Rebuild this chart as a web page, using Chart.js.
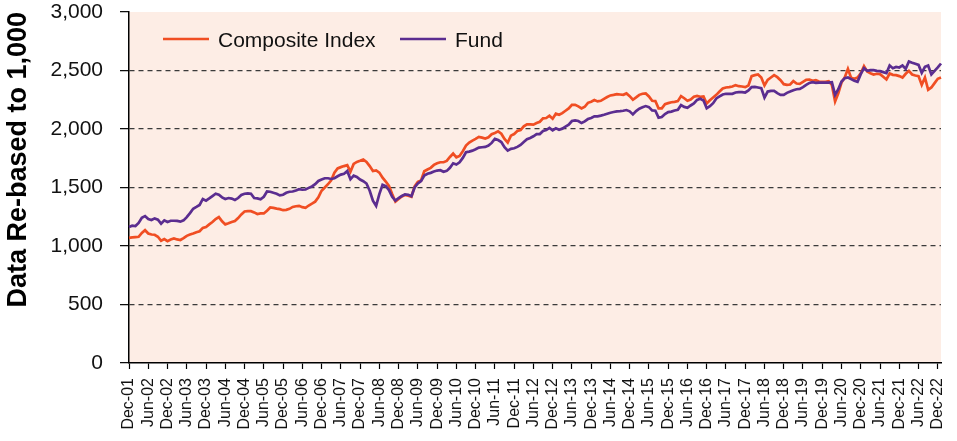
<!DOCTYPE html>
<html>
<head>
<meta charset="utf-8">
<script src="https://cdn.jsdelivr.net/npm/chart.js@4"></script>
<style>
  body { margin: 0; background: #fff; }
  #wrap { width: 957px; height: 441px; }
</style>
</head>
<body>
<div id="wrap"><canvas id="myChart" width="957" height="441"></canvas></div>
<script>
// monthly points, Dec-01 .. Jan-23
const monthNames = ['Jan', 'Feb', 'Mar', 'Apr', 'May', 'Jun', 'Jul', 'Aug', 'Sep', 'Oct', 'Nov', 'Dec'];
const startYear = 2001;
const startMonth = 11;
const monthCount = 254;

const compositeIndex = [
    1070, 1073, 1076, 1079, 1112, 1135, 1107, 1098, 1096, 1079,
    1045, 1059, 1042, 1056, 1065, 1056, 1051, 1067, 1087, 1098,
    1107, 1118, 1126, 1155, 1163, 1185, 1205, 1230, 1247, 1211,
    1185, 1194, 1205, 1214, 1239, 1270, 1295, 1298, 1298, 1287,
    1273, 1278, 1278, 1301, 1329, 1326, 1320, 1315, 1306, 1309,
    1318, 1334, 1340, 1343, 1332, 1326, 1346, 1362, 1379, 1416,
    1472, 1500, 1528, 1562, 1627, 1663, 1674, 1683, 1691, 1635,
    1702, 1719, 1728, 1739, 1719, 1683, 1641, 1646, 1627, 1584,
    1551, 1514, 1444, 1379, 1402, 1424, 1436, 1429, 1421, 1509,
    1548, 1560, 1639, 1654, 1668, 1693, 1707, 1716, 1716, 1727,
    1761, 1790, 1758, 1770, 1810, 1858, 1884, 1901, 1915, 1932,
    1926, 1918, 1929, 1955, 1966, 1980, 1960, 1915, 1884, 1943,
    1957, 1983, 1991, 2023, 2040, 2040, 2037, 2051, 2062, 2091,
    2094, 2114, 2088, 2131, 2122, 2136, 2156, 2176, 2207, 2207,
    2193, 2176, 2190, 2224, 2233, 2247, 2236, 2241, 2258, 2273,
    2287, 2292, 2298, 2295, 2292, 2304, 2281, 2250, 2270, 2292,
    2301, 2304, 2278, 2241, 2239, 2176, 2176, 2213, 2221, 2229,
    2232, 2238, 2281, 2263, 2241, 2252, 2275, 2283, 2275, 2278,
    2218, 2246, 2269, 2292, 2320, 2346, 2355, 2358, 2363, 2375,
    2366, 2363, 2358, 2372, 2452, 2460, 2466, 2440, 2372, 2420,
    2440, 2460, 2443, 2417, 2383, 2377, 2380, 2409, 2389, 2386,
    2403, 2420, 2423, 2412, 2417, 2406, 2403, 2403, 2409, 2377,
    2235, 2306, 2397, 2440, 2514, 2437, 2429, 2440, 2477, 2537,
    2491, 2477, 2466, 2472, 2469, 2446, 2423, 2474, 2463, 2460,
    2452, 2440, 2472, 2497, 2466, 2457, 2452, 2377, 2440, 2335,
    2355, 2392, 2429, 2440
];

const fund = [
    1163, 1174, 1171, 1197, 1242, 1256, 1230, 1222, 1236, 1225,
    1191, 1219, 1205, 1216, 1216, 1214, 1208, 1219, 1247, 1281,
    1318, 1334, 1351, 1402, 1388, 1407, 1427, 1447, 1438, 1416,
    1402, 1410, 1405, 1393, 1410, 1436, 1447, 1450, 1447, 1410,
    1407, 1399, 1421, 1466, 1464, 1455, 1447, 1433, 1438, 1455,
    1464, 1466, 1475, 1486, 1481, 1483, 1497, 1509, 1528, 1556,
    1568, 1579, 1579, 1573, 1579, 1596, 1610, 1618, 1641, 1570,
    1601, 1590, 1568, 1554, 1534, 1472, 1388, 1343, 1444, 1523,
    1511, 1478, 1421, 1388, 1410, 1427, 1441, 1438, 1426, 1500,
    1534, 1554, 1602, 1617, 1625, 1636, 1645, 1648, 1634, 1642,
    1668, 1707, 1696, 1716, 1753, 1801, 1807, 1815, 1827, 1841,
    1844, 1847, 1858, 1881, 1915, 1906, 1889, 1844, 1815, 1830,
    1835, 1847, 1864, 1889, 1912, 1923, 1938, 1957, 1957, 1983,
    1991, 2009, 1989, 2006, 1994, 2003, 2020, 2037, 2068, 2074,
    2068, 2051, 2065, 2085, 2094, 2108, 2108, 2114, 2122, 2131,
    2139, 2145, 2151, 2153, 2156, 2162, 2151, 2125, 2153, 2173,
    2185, 2196, 2187, 2159, 2156, 2097, 2102, 2128, 2144, 2149,
    2158, 2164, 2204, 2189, 2181, 2201, 2218, 2249, 2258, 2243,
    2178, 2195, 2221, 2261, 2278, 2295, 2301, 2301, 2301, 2312,
    2315, 2315, 2312, 2329, 2358, 2360, 2355, 2349, 2269, 2320,
    2326, 2326, 2306, 2292, 2292, 2309, 2320, 2332, 2340, 2343,
    2358, 2377, 2394, 2400, 2394, 2397, 2397, 2397, 2397, 2400,
    2292, 2340, 2406, 2434, 2440, 2426, 2412, 2403, 2469, 2520,
    2497, 2503, 2503, 2497, 2494, 2486, 2477, 2543, 2520, 2531,
    2526, 2543, 2514, 2577, 2566, 2557, 2548, 2480, 2531, 2543,
    2466, 2497, 2526, 2560
];

const seriesNames = ['Composite Index', 'Fund'];
const seriesColors = ['#f04e23', '#5b2d90'];
const yTicks = [0, 500, 1000, 1500, 2000, 2500, 3000];
const labelEvery = 6;

let months = [];
for (let i = 0; i < monthCount; i++) {
    const m = (startMonth + i) % 12;
    const y = startYear + Math.floor((startMonth + i) / 12);
    months.push(monthNames[m] + '-' + String(y % 100).padStart(2, '0'));
}

const plotBackground = {
    id: 'plotBackground',
    beforeDraw(chart) {
        const { ctx, chartArea } = chart;
        ctx.save();
        ctx.fillStyle = '#fdede5';
        ctx.fillRect(chartArea.left, chartArea.top, chartArea.right - chartArea.left, chartArea.bottom - chartArea.top);
        ctx.restore();
    }
};

// legend sits inside the plot, top left
const insideLegend = {
    id: 'insideLegend',
    afterDraw(chart) {
        const ctx = chart.ctx;
        const items = [{ x: 163, textX: 218 }, { x: 400, textX: 455 }];
        ctx.save();
        ctx.font = '21px "Liberation Sans", Arial, sans-serif';
        ctx.textBaseline = 'middle';
        ctx.fillStyle = '#111';
        items.forEach((it, i) => {
            ctx.strokeStyle = seriesColors[i];
            ctx.lineWidth = 2.5;
            ctx.beginPath();
            ctx.moveTo(it.x, 39);
            ctx.lineTo(it.x + 46, 39);
            ctx.stroke();
            ctx.fillText(seriesNames[i], it.textX, 41);
        });
        ctx.restore();
    }
};

const ctx = document.getElementById('myChart').getContext('2d');
const chart1 = new Chart(ctx, {
    type: 'line',
    data: {
        labels: months,
        datasets: [{
            label: seriesNames[0],
            data: compositeIndex,
            borderColor: seriesColors[0],
            borderWidth: 2.7,
            pointRadius: 0,
            tension: 0,
            order: 1
        }, {
            label: seriesNames[1],
            data: fund,
            borderColor: seriesColors[1],
            borderWidth: 2.7,
            pointRadius: 0,
            tension: 0,
            order: 0
        }]
    },
    options: {
        responsive: false,
        animation: false,
        layout: { padding: { top: 12, right: 16, left: 0, bottom: 0 } },
        plugins: {
            legend: { display: false },
            tooltip: { enabled: false }
        },
        scales: {
            x: {
                offset: false,
                afterBuildTicks: (axis) => {
                    axis.ticks = axis.ticks.filter(t => t.value % labelEvery === 0);
                },
                afterFit: (scale) => {
                    scale.height = 78;
                    scale.paddingTop = 0;
                    scale.paddingBottom = 0;
                    scale.paddingLeft = 0;
                    scale.paddingRight = 0;
                },
                ticks: {
                    autoSkip: false,
                    minRotation: 90,
                    maxRotation: 90,
                    padding: 9,
                    color: '#111',
                    font: { family: '"Liberation Sans", Arial, sans-serif', size: 16 }
                },
                grid: {
                    drawOnChartArea: false,
                    drawTicks: true,
                    tickLength: 6,
                    tickColor: '#000',
                    tickWidth: 1.2
                },
                border: { display: true, color: '#000', width: 1.5 }
            },
            y: {
                min: 0,
                max: 3000,
                afterBuildTicks: (axis) => {
                    axis.ticks = yTicks.map(v => ({ value: v }));
                },
                afterFit: (scale) => {
                    scale.width = 129;
                    scale.paddingTop = 0;
                    scale.paddingBottom = 0;
                },
                ticks: {
                    padding: 17,
                    color: '#111',
                    font: { family: '"Liberation Sans", Arial, sans-serif', size: 21 },
                    callback: (v) => v.toLocaleString('en-US')
                },
                grid: {
                    color: (c) => (c.tick && c.tick.value > 0 && c.tick.value < 3000) ? '#3a3a3a' : 'rgba(0,0,0,0)',
                    lineWidth: 1.3,
                    tickColor: '#000',
                    tickLength: 9,
                    tickWidth: 1.2
                },
                border: { display: true, color: '#000', width: 1.5, dash: [5, 4] },
                title: {
                    display: true,
                    text: 'Data Re-based to 1,000',
                    color: '#000',
                    align: 'end',
                    padding: { top: 2, bottom: 0 },
                    font: { family: '"Liberation Sans", Arial, sans-serif', size: 27, weight: 'bold' }
                }
            }
        }
    },
    plugins: [plotBackground, insideLegend]
});
</script>
</body>
</html>
